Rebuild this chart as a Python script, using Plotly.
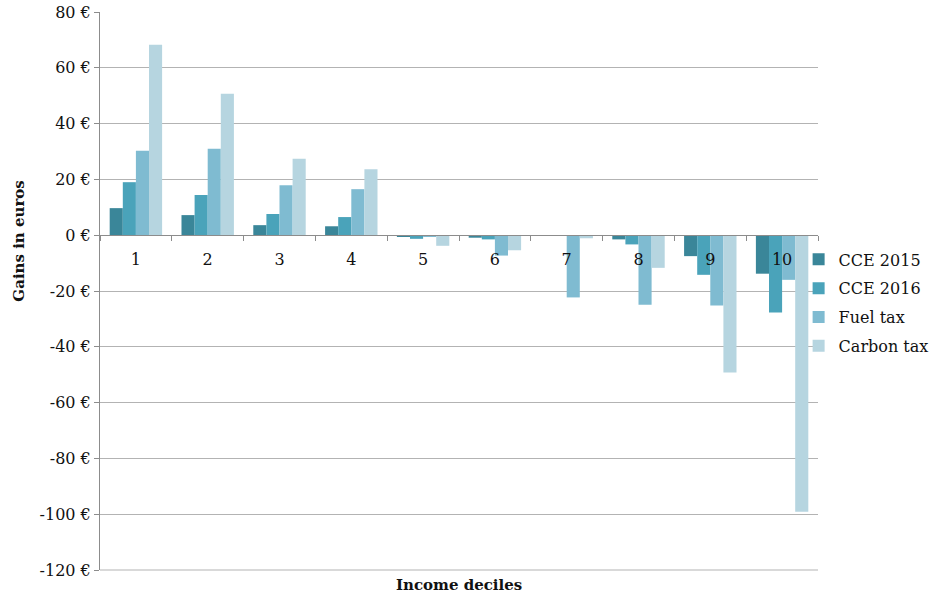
import plotly.graph_objects as go

deciles = ["1", "2", "3", "4", "5", "6", "7", "8", "9", "10"]
cce_2015 = [9.7, 7.2, 3.6, 3.2, -0.4, -0.9, 0.0, -1.5, -7.5, -13.8]
cce_2016 = [19.0, 14.4, 7.6, 6.5, -1.3, -1.5, 0.0, -3.3, -14.2, -27.7]
fuel_tax = [30.3, 31.0, 17.9, 16.5, -0.3, -7.3, -22.3, -24.9, -25.2, -16.0]
carbon_tax = [68.3, 50.7, 27.4, 23.6, -3.8, -5.4, -1.1, -11.7, -49.2, -99.1]

series = [
    ("CCE 2015", cce_2015, "#3A8699"),
    ("CCE 2016", cce_2016, "#4AA3BA"),
    ("Fuel tax", fuel_tax, "#7FBBD1"),
    ("Carbon tax", carbon_tax, "#B6D5E0"),
]

y_ticks = list(range(-120, 81, 20))
y_labels = [f"{v} €" for v in y_ticks]

FONT = "DejaVu Serif"
TXT = "#111111"

fig = go.Figure()
for name, vals, col in series:
    fig.add_trace(go.Bar(x=deciles, y=vals, name=name, legendgroup=name,
                         marker=dict(color=col, line=dict(width=0))))

fig.update_layout(
    width=943, height=596,
    margin=dict(l=100, r=125, t=12, b=26, autoexpand=False),
    paper_bgcolor="white", plot_bgcolor="white",
    barmode="group", bargap=0.27, bargroupgap=0,
    font=dict(family=FONT, size=16, color=TXT),
    legend=dict(x=0.973, y=0.587, xanchor="left", yanchor="top",
                bgcolor="rgba(0,0,0,0)",
                font=dict(family=FONT, size=16, color=TXT),
                itemwidth=30, tracegroupgap=5),
    showlegend=True,
)
fig.update_yaxes(
    range=[-120, 80], tickvals=y_ticks, ticktext=y_labels, automargin=False,
    ticklabeloverflow="allow",
    showgrid=True, gridcolor="#B3B3B3", gridwidth=1,
    zeroline=False, showline=True, linecolor="#8C8C8C", linewidth=1,
    ticks="outside", ticklen=5, tickcolor="#8C8C8C",
    tickfont=dict(family=FONT, size=16, color=TXT),
)
fig.update_xaxes(
    anchor="free", position=0.6, automargin=False,
    showline=True, linecolor="#8C8C8C", linewidth=1,
    ticks="outside", ticklen=5, tickcolor="#8C8C8C", tickson="boundaries",
    ticklabelstandoff=10,
    showgrid=False, zeroline=False,
    tickfont=dict(family=FONT, size=16, color=TXT),
)
fig.add_annotation(text="<b>Income deciles</b>", xref="paper", yref="paper",
                   x=0.5, y=-0.008, xanchor="center", yanchor="top", showarrow=False,
                   font=dict(family=FONT, size=15, color=TXT))
fig.add_annotation(text="<b>Gains in euros</b>", xref="paper", yref="paper",
                   x=-0.113, y=0.59, xanchor="center", yanchor="middle", textangle=-90,
                   showarrow=False, font=dict(family=FONT, size=15, color=TXT))
fig.add_shape(type="line", xref="paper", yref="paper", x0=0, x1=1, y0=0, y1=0,
              line=dict(color="#B3B3B3", width=1))

fig.write_html("out.html", config={"displayModeBar": False},
               post_script="document.body.style.margin='0';")
